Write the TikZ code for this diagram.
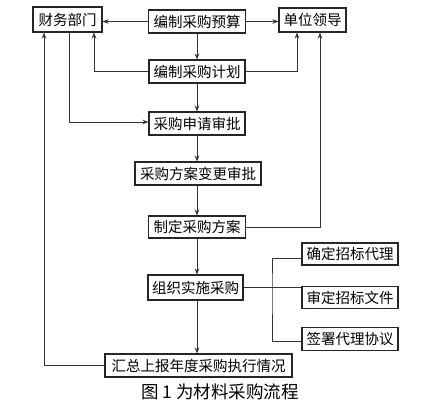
\documentclass[tikz,border=0pt]{standalone}
\usepackage{fontspec}
\newfontfamily\cjk{Noto Sans CJK SC}
\usetikzlibrary{arrows.meta,calc}
\begin{document}
\begin{tikzpicture}[x=1pt,y=-1pt,
  box/.style={draw=black!85,line width=1.1pt,fill=white,inner sep=0pt,
    font=\cjk\fontsize{14.5}{14.5}\selectfont,minimum height=23pt},
  conn/.style={draw=black!80,line width=0.9pt},
  arr/.style={conn,-{Stealth[length=6pt,width=4.6pt]}}]
\useasboundingbox[fill=white] (0,0) rectangle (436,405);
% nodes
\node[box,minimum width=69pt,minimum height=25pt] (cw) at (67.5,19.5) {财务部门};
\node[box,minimum width=97pt] (ys) at (197,21.5) {编制采购预算};
\node[box,minimum width=67pt,minimum height=24pt] (ld) at (312.5,20) {单位领导};
\node[box,minimum width=96pt] (jh) at (197,71.5) {编制采购计划};
\node[box,minimum width=96pt] (sq) at (197,123.5) {采购申请审批};
\node[box,minimum width=126pt] (bg) at (198,173.5) {采购方案变更审批};
\node[box,minimum width=97pt,minimum height=22pt] (zd) at (197,227) {制定采购方案};
\node[box,minimum width=95pt,minimum height=25pt] (zz) at (195.5,287.5) {组织实施采购};
\node[box,minimum width=187pt] (hz) at (198.5,365.5) {汇总上报年度采购执行情况};
\node[box,minimum width=96pt,minimum height=22pt] (qd) at (350,254) {确定招标代理};
\node[box,minimum width=96pt,minimum height=22pt] (sd) at (350,297.5) {审定招标文件};
\node[box,minimum width=96pt,minimum height=23pt] (qs) at (350,339) {签署代理协议};
\node[font=\cjk\fontsize{17.5}{17.5}\selectfont] (cap) at (220,392) {图 1 为材料采购流程};
% coordinates
\coordinate (cwL) at ([xshift=-23.5pt]cw.south);
\coordinate (cwM) at ([xshift=1.5pt]cw.south);
\coordinate (cwR) at ([xshift=26.5pt]cw.south);
\coordinate (ldL) at ([xshift=-15.5pt]ld.south);
\coordinate (ldR) at ([xshift=7.5pt]ld.south);
\coordinate (br) at (272,287.5);
% connectors
\draw[arr] (ys.west) -- (ys.west -| cw.east);
\draw[arr] (ys.east) -- (ys.east -| ld.west);
\draw[arr] (197,0 |- ys.south) -- (197,0 |- jh.north);
\draw[arr] (jh.west) -| (cwR);
\draw[arr] (jh.east) -| (ldL);
\draw[arr] (cwM) |- ([yshift=1.5pt]sq.west);
\draw[arr] (jh.south) -- (sq.north);
\draw[arr] (sq.south) -- (sq.south |- bg.north);
\draw[arr] (sq.south |- bg.south) -- (zd.north);
\draw[arr] (zd.east) -| (ldR);
\draw[arr] (zd.south) -- (zd.south |- zz.north);
\draw[arr] (zd.south |- zz.south) -- (zd.south |- hz.north);
\draw[conn] (zz.east) -- (zz.east -| sd.west);
\draw[conn] ([yshift=-4pt]qd.west) -| (br) |- ([yshift=-2pt]qs.west);
\draw[arr] (hz.west) -| (cwL);
\end{tikzpicture}
\end{document}
